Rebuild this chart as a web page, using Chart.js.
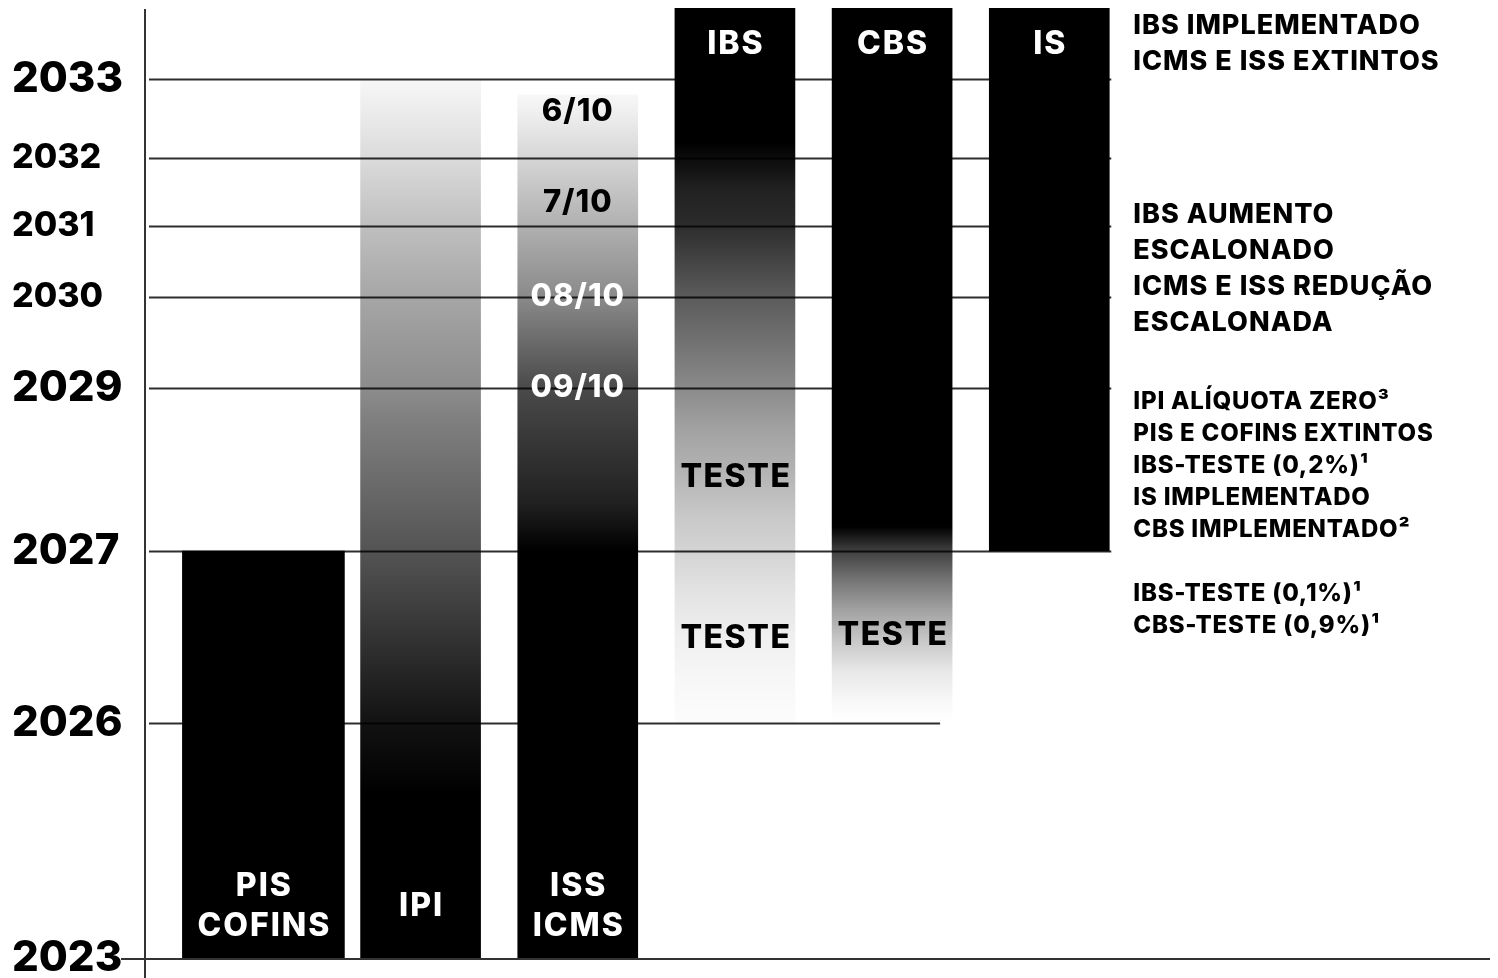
<!DOCTYPE html>
<html><head><meta charset="utf-8">
<script src="https://cdn.jsdelivr.net/npm/chart.js@4/dist/chart.umd.min.js"></script>
<style>html,body{margin:0;padding:0;background:#fff;}canvas{display:block}</style>
</head><body>
<canvas id="c" width="1498" height="978"></canvas>
<script>
// ---------------- data ----------------
const TAX_NAMES = [['PIS', 'COFINS'], ['IPI'], ['ISS', 'ICMS'], ['IBS'], ['CBS'], ['IS']];
const START_YEARS = [2023, 2023, 2023, 2026, 2026, 2027];
const END_YEARS = [2027, 2033, 2032.8, 2034, 2034, 2034];
const TICK_YEARS = [2023, 2026, 2027, 2029, 2030, 2031, 2032, 2033];
const MAJOR_TICK_YEARS = [2023, 2026, 2027, 2029, 2033];
const ISS_STAGE_LABELS = ['09/10', '08/10', '7/10', '6/10'];
const ISS_STAGE_YEARS = [2029, 2030, 2031.35, 2032.58];
const TEST_LABEL_TAX = [3, 3, 4];
const TEST_LABEL_YEARS = [2027.9, 2026.49, 2026.51];
const NOTE_YEARS = [2033.5, 2030.4, 2028.05, 2026.66];
const NOTE_LINES = [
  ['IBS IMPLEMENTADO', 'ICMS E ISS EXTINTOS'],
  ['IBS AUMENTO', 'ESCALONADO', 'ICMS E ISS REDUÇÃO', 'ESCALONADA'],
  ['IPI ALÍQUOTA ZERO³', 'PIS E COFINS EXTINTOS', 'IBS-TESTE (0,2%)¹', 'IS IMPLEMENTADO', 'CBS IMPLEMENTADO²'],
  ['IBS-TESTE (0,1%)¹', 'CBS-TESTE (0,9%)¹']
];

// ---------------- style ----------------
const FONT = 'Inter, "Open Sans", "DejaVu Sans", sans-serif';
// opacity profile of each faded bar (year, opacity of black)
const FADES = {
  1: [[2023, 1], [2025.1, 1], [2026, 0.93], [2027, 0.67], [2028.6, 0.5], [2029, 0.45], [2030, 0.35], [2031, 0.25], [2032, 0.14], [2033, 0.03]],
  2: [[2023, 1], [2027, 1], [2027.6, 0.87], [2029, 0.71], [2030, 0.46], [2031, 0.31], [2032, 0.16], [2032.6, 0.06], [2032.8, 0.03]],
  3: [[2026, 0.01], [2026.25, 0.03], [2026.48, 0.06], [2026.72, 0.1], [2027, 0.17], [2027.4, 0.21], [2027.93, 0.29], [2028.51, 0.37], [2029, 0.46],
      [2029.54, 0.56], [2030.06, 0.65], [2030.66, 0.76], [2031.04, 0.83], [2031.54, 0.87], [2032.2, 1], [2034, 1]],
  4: [[2026, 0.0], [2026.1, 0.02], [2026.3, 0.09], [2026.48, 0.22], [2026.66, 0.37], [2026.82, 0.53], [2027, 0.75], [2027.3, 1], [2034, 1]]
};
// non-uniform spacing of the drawn year axis
const AXIS_YEARS = [2023, 2026, 2027, 2029, 2030, 2031, 2032, 2033, 2034];
const AXIS_SPAN = [0, 235, 407, 570, 661, 732, 800, 879, 950];

function interp(xs, ys, v) {
  const n = xs.length;
  if (v <= xs[0]) return ys[0] + (v - xs[0]) * (ys[1] - ys[0]) / (xs[1] - xs[0]);
  for (let i = 1; i < n; i++) {
    if (v <= xs[i]) return ys[i - 1] + (v - xs[i - 1]) * (ys[i] - ys[i - 1]) / (xs[i] - xs[i - 1]);
  }
  return ys[n - 1] + (v - xs[n - 1]) * (ys[n - 1] - ys[n - 2]) / (xs[n - 1] - xs[n - 2]);
}

class TimelineScale extends Chart.LinearScale {
  static id = 'timeline';
  static defaults = {};
  getPixelForValue(v) {
    if (v === null || v === undefined || isNaN(v)) return NaN;
    const a = interp(AXIS_YEARS, AXIS_SPAN, this.min), b = interp(AXIS_YEARS, AXIS_SPAN, this.max);
    return this.getPixelForDecimal((interp(AXIS_YEARS, AXIS_SPAN, v) - a) / (b - a));
  }
  getValueForPixel(p) {
    const a = interp(AXIS_YEARS, AXIS_SPAN, this.min), b = interp(AXIS_YEARS, AXIS_SPAN, this.max);
    return interp(AXIS_SPAN, AXIS_YEARS, a + this.getDecimalForPixel(p) * (b - a));
  }
}
Chart.register(TimelineScale);

function opacityAt(stops, yr) {
  return interp(stops.map(s => s[0]), stops.map(s => s[1]), Math.max(stops[0][0], Math.min(stops[stops.length - 1][0], yr)));
}

function fillFor(chart, i) {
  const stops = FADES[i];
  if (!stops || !chart.chartArea) return '#000';
  const y = chart.scales.y;
  const y0 = y.getPixelForValue(y.min), y1 = y.getPixelForValue(y.max);
  const g = chart.ctx.createLinearGradient(0, y0, 0, y1);
  stops.forEach(([yr, a]) => {
    const off = Math.min(1, Math.max(0, (y0 - y.getPixelForValue(yr)) / (y0 - y1)));
    g.addColorStop(off, `rgba(0,0,0,${a})`);
  });
  return g;
}

const datasets = TAX_NAMES.map((name, i) => ({
  label: name.join(' '),
  data: [{ x: i, y: [START_YEARS[i], END_YEARS[i]] }],
  barThickness: i === 0 ? 162 : 120,
  grouped: false,
  borderWidth: 0,
  backgroundColor: ctx => fillFor(ctx.chart, i)
}));

function barEl(chart, i) { return chart.getDatasetMeta(i).data[0]; }
function setSpacing(ctx, s) { if ('letterSpacing' in ctx) ctx.letterSpacing = s + 'px'; }

const timelinePlugin = {
  id: 'timelineDecor',
  beforeDatasetsDraw(chart) {
    const { ctx, chartArea, scales: { y } } = chart;
    const last = barEl(chart, TAX_NAMES.length - 1);
    const cbs = barEl(chart, 4);
    const rightEnd = last.x + last.width / 2 + 2;
    ctx.save();
    ctx.strokeStyle = '#2e2e2e';
    ctx.lineWidth = 1.8;
    TICK_YEARS.forEach(v => {
      if (v === y.min) return;
      const py = Math.round(y.getPixelForValue(v)) + 0.5;
      const end = v === 2026 ? cbs.x + 48 : rightEnd;
      ctx.beginPath();
      ctx.moveTo(chartArea.left + 3, py);
      ctx.lineTo(end, py);
      ctx.stroke();
    });
    ctx.restore();
  },
  afterDatasetsDraw(chart) {
    const { ctx, chartArea, scales: { y } } = chart;
    ctx.save();
    // axis lines
    ctx.strokeStyle = '#333';
    ctx.lineWidth = 2;
    ctx.beginPath();
    ctx.moveTo(chartArea.left - 1, chartArea.top + 1);
    ctx.lineTo(chartArea.left - 1, chart.height);
    ctx.stroke();
    const by = Math.round(y.getPixelForValue(y.min)) + 1;
    ctx.beginPath();
    ctx.moveTo(chartArea.left - 25, by);
    ctx.lineTo(chartArea.right, by);
    ctx.stroke();

    ctx.textAlign = 'center';
    ctx.textBaseline = 'middle';
    // tax names
    TAX_NAMES.forEach((lines, i) => {
      const el = barEl(chart, i);
      ctx.fillStyle = '#fff';
      ctx.font = `800 32px ${FONT}`;
      setSpacing(ctx, 2);
      const lh = 40;
      let cy;
      if (START_YEARS[i] === y.min) cy = y.getPixelForValue(START_YEARS[i]) - 52;
      else cy = y.getPixelForValue(END_YEARS[i]) + 36;
      const top = cy - (lines.length - 1) * lh / 2;
      lines.forEach((t, k) => ctx.fillText(t, el.x + 1, top + k * lh));
    });
    // ISS/ICMS phase-out stages
    const iss = barEl(chart, 2);
    ctx.font = `800 31px ${FONT}`;
    setSpacing(ctx, 1);
    ISS_STAGE_LABELS.forEach((t, k) => {
      const yr = ISS_STAGE_YEARS[k];
      ctx.fillStyle = opacityAt(FADES[2], yr) > 0.4 ? '#fff' : '#000';
      ctx.fillText(t, iss.x, y.getPixelForValue(yr));
    });
    // test phases
    ctx.fillStyle = '#000';
    ctx.font = `800 32px ${FONT}`;
    setSpacing(ctx, 1.5);
    TEST_LABEL_TAX.forEach((ti, k) => {
      const el = barEl(chart, ti);
      ctx.fillText('TESTE', el.x + 1, y.getPixelForValue(TEST_LABEL_YEARS[k]));
    });
    // notes on the right
    const last = barEl(chart, TAX_NAMES.length - 1);
    const nx = last.x + last.width / 2 + 24;
    ctx.textAlign = 'left';
    NOTE_LINES.forEach((lines, k) => {
      const big = k < 2;
      const size = big ? 27 : 24, lh = big ? 36 : 32;
      ctx.font = `800 ${size}px ${FONT}`;
      setSpacing(ctx, big ? 1 : 0.8);
      const cy = y.getPixelForValue(NOTE_YEARS[k]);
      const top = cy - (lines.length - 1) * lh / 2;
      lines.forEach((t, j) => ctx.fillText(t, nx, top + j * lh));
    });
    ctx.restore();
  }
};

new Chart(document.getElementById('c'), {
  type: 'bar',
  data: { datasets },
  plugins: [timelinePlugin],
  options: {
    responsive: false,
    animation: false,
    devicePixelRatio: 1,
    layout: { padding: { left: 12, top: 8, right: 8, bottom: 20 } },
    plugins: { legend: { display: false }, tooltip: { enabled: false } },
    scales: {
      x: {
        type: 'linear', display: false, offset: false,
        min: -0.747, max: 7.804,
        grid: { display: false }
      },
      y: {
        type: 'timeline',
        min: 2023, max: 2034,
        bounds: 'data',
        beginAtZero: false,
        grid: { display: false, drawTicks: false },
        border: { display: false },
        afterBuildTicks: axis => { axis.ticks = TICK_YEARS.map(v => ({ value: v })); },
        afterFit: axis => { axis.width = 134; axis.paddingTop = 0; axis.paddingBottom = 0; },
        ticks: {
          autoSkip: false,
          crossAlign: 'far',
          color: '#000',
          callback: v => String(v),
          font: ctx => ({ family: FONT, weight: '800', size: ctx.tick && MAJOR_TICK_YEARS.includes(ctx.tick.value) ? 42 : 34 })
        }
      }
    }
  }
});
</script>
</body></html>
